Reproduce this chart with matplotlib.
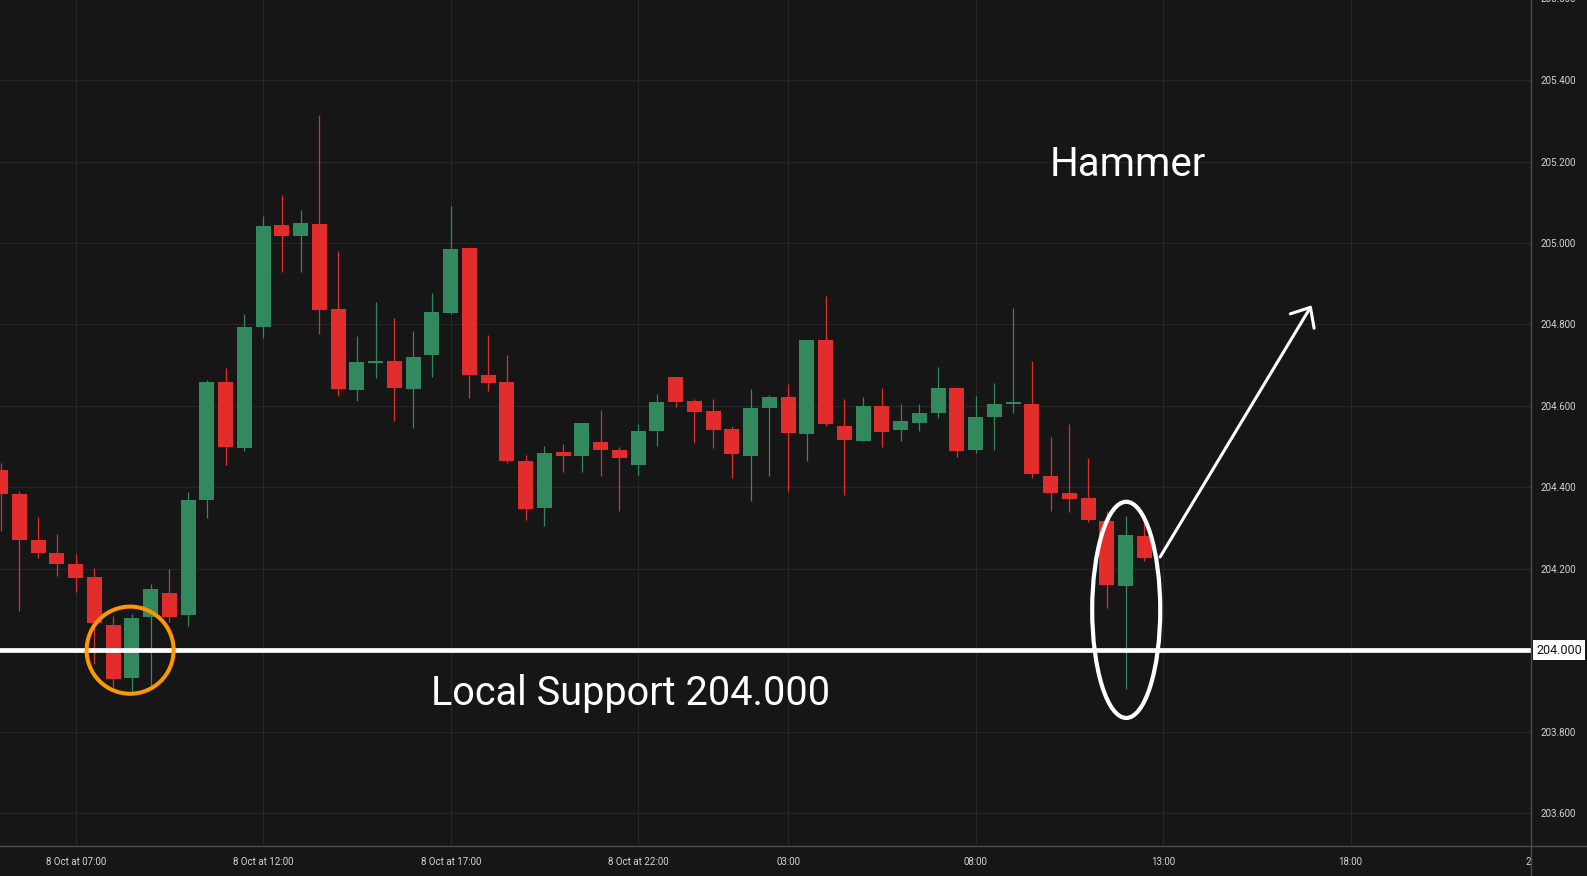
import numpy as np
import matplotlib.pyplot as plt
from matplotlib.patches import Ellipse
from matplotlib.lines import Line2D
from matplotlib.transforms import Bbox, TransformedBbox, blended_transform_factory

plt.rcParams['font.family'] = ['Roboto', 'DejaVu Sans']

# 30 min candles, first visible bar sits 4 bars before 07:00
opens = [204.442, 204.383, 204.270, 204.238, 204.211, 204.179, 204.061, 203.932,
         204.082, 204.140, 204.087, 204.369, 204.658, 204.497, 204.793, 205.044,
         205.017, 205.046, 204.838, 204.639, 204.705, 204.710, 204.641, 204.725,
         204.828, 204.987, 204.676, 204.658, 204.464, 204.349, 204.486, 204.477,
         204.511, 204.491, 204.454, 204.538, 204.671, 204.612, 204.587, 204.543,
         204.477, 204.594, 204.621, 204.531, 204.761, 204.550, 204.513, 204.599,
         204.540, 204.558, 204.582, 204.644, 204.491, 204.572, 204.604, 204.604,
         204.427, 204.386, 204.373, 204.317, 204.158, 204.280]
highs = [204.459, 204.391, 204.327, 204.285, 204.236, 204.201, 204.084, 204.088,
         204.162, 204.199, 204.388, 204.663, 204.693, 204.825, 205.066, 205.118,
         205.081, 205.314, 204.980, 204.771, 204.855, 204.816, 204.784, 204.877,
         205.091, 204.990, 204.774, 204.725, 204.479, 204.501, 204.506, 204.558,
         204.590, 204.499, 204.555, 204.629, 204.671, 204.617, 204.617, 204.550,
         204.641, 204.626, 204.653, 204.761, 204.870, 204.617, 204.621, 204.644,
         204.604, 204.604, 204.695, 204.646, 204.624, 204.656, 204.840, 204.710,
         204.523, 204.555, 204.472, 204.341, 204.329, 204.319]
lows = [204.293, 204.097, 204.227, 204.183, 204.143, 203.966, 203.910, 203.900,
        203.910, 204.070, 204.060, 204.325, 204.454, 204.490, 204.766, 204.929,
        204.929, 204.776, 204.624, 204.612, 204.668, 204.563, 204.545, 204.671,
        204.825, 204.619, 204.636, 204.460, 204.319, 204.305, 204.437, 204.437,
        204.427, 204.341, 204.430, 204.501, 204.597, 204.508, 204.496, 204.423,
        204.366, 204.427, 204.391, 204.464, 204.550, 204.381, 204.513, 204.499,
        204.513, 204.538, 204.570, 204.474, 204.484, 204.491, 204.582, 204.423,
        204.342, 204.340, 204.315, 204.104, 203.905, 204.219]
closes = [204.384, 204.271, 204.239, 204.212, 204.178, 204.067, 203.930, 204.079,
          204.150, 204.082, 204.368, 204.658, 204.499, 204.793, 205.042, 205.017,
          205.049, 204.835, 204.641, 204.707, 204.710, 204.644, 204.720, 204.830,
          204.985, 204.676, 204.656, 204.464, 204.346, 204.484, 204.477, 204.558,
          204.491, 204.472, 204.538, 204.609, 204.609, 204.585, 204.540, 204.481,
          204.594, 204.621, 204.533, 204.761, 204.555, 204.516, 204.599, 204.535,
          204.563, 204.582, 204.644, 204.489, 204.572, 204.604, 204.609, 204.433,
          204.386, 204.372, 204.320, 204.160, 204.282, 204.227]

tick_bars = [0, 10, 20, 30, 38, 48, 58, 68, 78]
tick_labels = ['8 Oct at 07:00', '8 Oct at 12:00', '8 Oct at 17:00', '8 Oct at 22:00',
               '03:00', '08:00', '13:00', '18:00', '23:00']
price_ticks = [203.6, 203.8, 204.0, 204.2, 204.4, 204.6, 204.8, 205.0, 205.2, 205.4, 205.6]
support = 204.0

bg = '#161616'
green = '#32895d'
red = '#e32d2d'
grid_c = '#272727'
txt_c = '#d4d4d4'

o = np.array(opens)
h = np.array(highs)
l = np.array(lows)
c = np.array(closes)
x = np.arange(len(o)) - 4

fig = plt.figure(figsize=(15.87, 8.76), dpi=100, facecolor=bg)
ax = fig.add_axes([0, 30 / 876, 1531 / 1587, 846 / 876])
ax.set_facecolor(bg)

cols = np.where(c >= o, green, red)
ax.vlines(x, l, h, colors=cols, lw=0.9, zorder=3)
body = np.maximum(np.abs(c - o), 0.005)
ax.bar(x, body, bottom=np.minimum(o, c), width=0.8, color=cols, zorder=4)

ax.set_xlim(-4.04, 77.62)
ax.set_ylim(203.519, 205.597)

# grid + ticks
ax.set_xticks(tick_bars[:-1])
ax.set_xticklabels(tick_labels[:-1])
ax.set_yticks(price_ticks[:-1])
ax.set_yticklabels(['' if p == support else f'{p:.3f}' for p in price_ticks[:-1]])
ax.yaxis.tick_right()
ax.tick_params(axis='x', length=0, pad=8, labelsize=7, labelcolor=txt_c)
ax.tick_params(axis='y', length=0, pad=7, labelsize=7, labelcolor=txt_c)
ax.grid(True, color=grid_c, lw=0.8, zorder=0)
for s in ax.spines.values():
    s.set_visible(False)

# last time label is cut by the price panel
clip = TransformedBbox(Bbox([[0, 0], [1531 / 1587, 1]]), fig.transFigure)
bx = blended_transform_factory(ax.transData, ax.transAxes)
t = ax.text(tick_bars[-1], -0.0131, tick_labels[-1], transform=bx, ha='center', va='top',
            fontsize=7, color=txt_c, clip_on=True)
t.set_clip_box(clip)
# top price label, half off canvas
by = blended_transform_factory(ax.transAxes, ax.transData)
ax.text(1.0 + 9 / 1531, price_ticks[-1], f'{price_ticks[-1]:.3f}', transform=by, ha='left',
        va='center', fontsize=7, color=txt_c, clip_on=False)

# axis frame lines
fig.add_artist(Line2D([0, 1], [30 / 876, 30 / 876], transform=fig.transFigure, color='#4a4a4a', lw=1))
fig.add_artist(Line2D([1531 / 1587, 1531 / 1587], [0, 1], transform=fig.transFigure, color='#4a4a4a', lw=1))

# support line and its label
ax.axhline(support, color='white', lw=3.4, zorder=5)
ax.text(1.0 + 28 / 1531, support, f'{support:.3f}', transform=by, ha='center', va='center',
        fontsize=9, color='#111111', clip_on=False, zorder=6,
        bbox=dict(boxstyle='square,pad=0.28', fc='white', ec='none'))
ax.text(29.6, 203.866, 'Local Support 204.000', color='white', fontsize=28.5, ha='center', va='baseline')
ax.text(56.1, 205.164, 'Hammer', color='white', fontsize=29, ha='center', va='baseline')

ax.add_patch(Ellipse((2.9, 204.0), 4.64, 0.214, fill=False, ec='#ff9800', lw=2.9, zorder=7))
ax.add_patch(Ellipse((56.03, 204.099), 3.63, 0.531, fill=False, ec='white', lw=3.0, zorder=7))
ax.annotate('', xy=(65.92, 204.847), xytext=(57.84, 204.229),
            arrowprops=dict(arrowstyle='->,head_length=1.15,head_width=1.0', color='white',
                            lw=2.2, shrinkA=0, shrinkB=0, mutation_scale=10))

fig.savefig('out.png', dpi=100, facecolor=bg)
